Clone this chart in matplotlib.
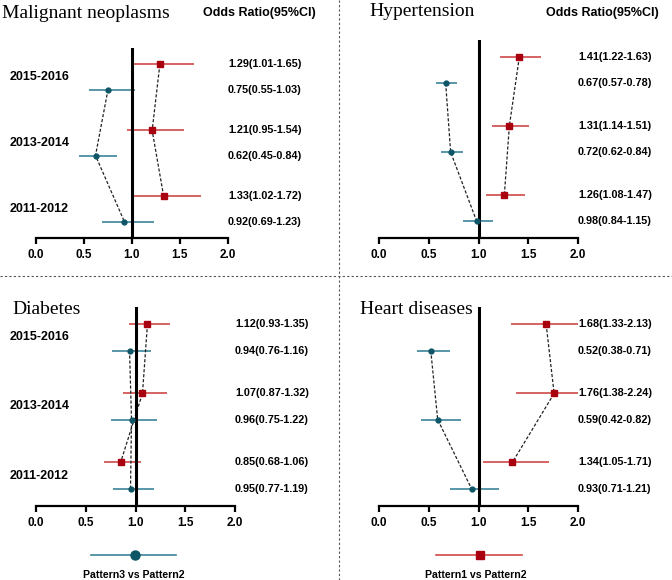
import matplotlib
matplotlib.use("Agg")
import matplotlib.pyplot as plt
from matplotlib.lines import Line2D
import matplotlib.transforms as mtransforms

years = ["2015-2016", "2013-2014", "2011-2012"]
titles = ["Malignant neoplasms", "Hypertension", "Diabetes", "Heart diseases"]

# Pattern1 vs Pattern2 (red)
p1_or = [[1.29, 1.21, 1.33], [1.41, 1.31, 1.26], [1.12, 1.07, 0.85], [1.68, 1.76, 1.34]]
p1_lo = [[1.01, 0.95, 1.02], [1.22, 1.14, 1.08], [0.93, 0.87, 0.68], [1.33, 1.38, 1.05]]
p1_hi = [[1.65, 1.54, 1.72], [1.63, 1.51, 1.47], [1.35, 1.32, 1.06], [2.13, 2.24, 1.71]]
# Pattern3 vs Pattern2 (teal)
p3_or = [[0.75, 0.62, 0.92], [0.67, 0.72, 0.98], [0.94, 0.96, 0.95], [0.52, 0.59, 0.93]]
p3_lo = [[0.55, 0.45, 0.69], [0.57, 0.62, 0.84], [0.76, 0.75, 0.77], [0.38, 0.42, 0.71]]
p3_hi = [[1.03, 0.84, 1.23], [0.78, 0.84, 1.15], [1.16, 1.22, 1.19], [0.71, 0.82, 1.21]]

xticks = [0.0, 0.5, 1.0, 1.5, 2.0]

RED_L, RED_M = "#D04848", "#A8000E"
TEAL_L, TEAL_M = "#3A8499", "#0E5566"
SANS = "Liberation Sans"
SERIF = "Liberation Serif"

W, H = 672, 580
fig = plt.figure(figsize=(W / 100, H / 100), dpi=100)

# panel rects in pixels: x0 (value 0), x2 (value 2), y axis line, y top of ref line
rects = [(36, 228, 238, 48), (379, 578, 238, 40), (36, 235, 506, 307), (379, 578, 506, 307)]
title_pos = [(2, 14), (369, 12), (12, 310), (360, 309)]
show_years = [True, False, True, False]
off = 0.19
gy = [2, 1, 0]

def px(x, y):
    return x / W, 1 - y / H

for i in range(4):
    x0, x2, yb, yt = rects[i]
    ax = fig.add_axes([x0 / W, 1 - yb / H, (x2 - x0) / W, (yb - yt) / H])
    ax.set_xlim(0, 2)
    ax.set_ylim(-0.44, 2.44)
    for s in ["left", "right", "top"]:
        ax.spines[s].set_visible(False)
    ax.spines["bottom"].set_linewidth(1.6)
    ax.set_yticks([])
    ax.set_xticks(xticks)
    ax.set_xticklabels([f"{t:.1f}" for t in xticks], fontfamily=SANS, fontweight="bold", fontsize=8.5)
    ax.tick_params(axis="x", length=4, width=1.6, pad=4)
    ax.axvline(1.0, color="black", lw=2.2, zorder=3)

    ry = [g + off for g in gy]
    ty = [g - off for g in gy]
    ax.plot(p1_or[i], ry, ls=(0, (2.5, 1.5)), color="#222222", lw=0.9, zorder=2)
    ax.plot(p3_or[i], ty, ls=(0, (2.5, 1.5)), color="#222222", lw=0.9, zorder=2)
    ax.hlines(ry, p1_lo[i], p1_hi[i], color=RED_L, lw=1.2, zorder=1)
    ax.hlines(ty, p3_lo[i], p3_hi[i], color=TEAL_L, lw=1.2, zorder=1)
    ax.plot(p1_or[i], ry, ls="none", marker="s", ms=4, color=RED_M, zorder=4)
    ax.plot(p3_or[i], ty, ls="none", marker="o", ms=3.5, color=TEAL_M, zorder=4)

    trans = mtransforms.blended_transform_factory(ax.transAxes, ax.transData)
    for k in range(3):
        ax.text(1.0, ry[k], f"{p1_or[i][k]:.2f}({p1_lo[i][k]:.2f}-{p1_hi[i][k]:.2f})",
                transform=trans, ha="left", va="center", fontfamily=SANS,
                fontweight="bold", fontsize=7.8, clip_on=False)
        ax.text(1.0, ty[k], f"{p3_or[i][k]:.2f}({p3_lo[i][k]:.2f}-{p3_hi[i][k]:.2f})",
                transform=trans, ha="left", va="center", fontfamily=SANS,
                fontweight="bold", fontsize=7.8, clip_on=False)
    if show_years[i]:
        ytrans = mtransforms.blended_transform_factory(fig.transFigure, ax.transData)
        for k in range(3):
            ax.text(10 / W, gy[k], years[k], transform=ytrans, ha="left", va="center",
                    fontfamily=SANS, fontweight="bold", fontsize=9)
    tx, tyy = title_pos[i]
    fig.text(*px(tx, tyy), titles[i], ha="left", va="center", fontfamily=SERIF, fontsize=14)

fig.text(*px(203, 13), "Odds Ratio(95%CI)", ha="left", va="center", fontfamily=SANS,
         fontweight="bold", fontsize=9)
fig.text(*px(546, 13), "Odds Ratio(95%CI)", ha="left", va="center", fontfamily=SANS,
         fontweight="bold", fontsize=9)

# dividers
fig.add_artist(Line2D([0, 1], [1 - 276 / H] * 2, transform=fig.transFigure,
                      color="#555555", lw=0.8, ls=(0, (2, 2))))
fig.add_artist(Line2D([339 / W] * 2, [0, 1], transform=fig.transFigure,
                      color="#555555", lw=0.8, ls=(0, (2, 2))))

# legend
fig.add_artist(Line2D([91 / W, 176 / W], [1 - 555 / H] * 2, transform=fig.transFigure,
                      color=TEAL_L, lw=1.2))
fig.add_artist(Line2D([135 / W], [1 - 555 / H], transform=fig.transFigure, ls="none",
                      marker="o", ms=6.5, color=TEAL_M))
fig.text(*px(134, 575), "Pattern3 vs Pattern2", ha="center", va="center", fontfamily=SANS,
         fontweight="bold", fontsize=7.6)
fig.add_artist(Line2D([436 / W, 522 / W], [1 - 555 / H] * 2, transform=fig.transFigure,
                      color=RED_L, lw=1.2))
fig.add_artist(Line2D([480 / W], [1 - 555 / H], transform=fig.transFigure, ls="none",
                      marker="s", ms=5.8, color=RED_M))
fig.text(*px(476, 575), "Pattern1 vs Pattern2", ha="center", va="center", fontfamily=SANS,
         fontweight="bold", fontsize=7.6)

fig.savefig("out.png", dpi=100, facecolor="white")
